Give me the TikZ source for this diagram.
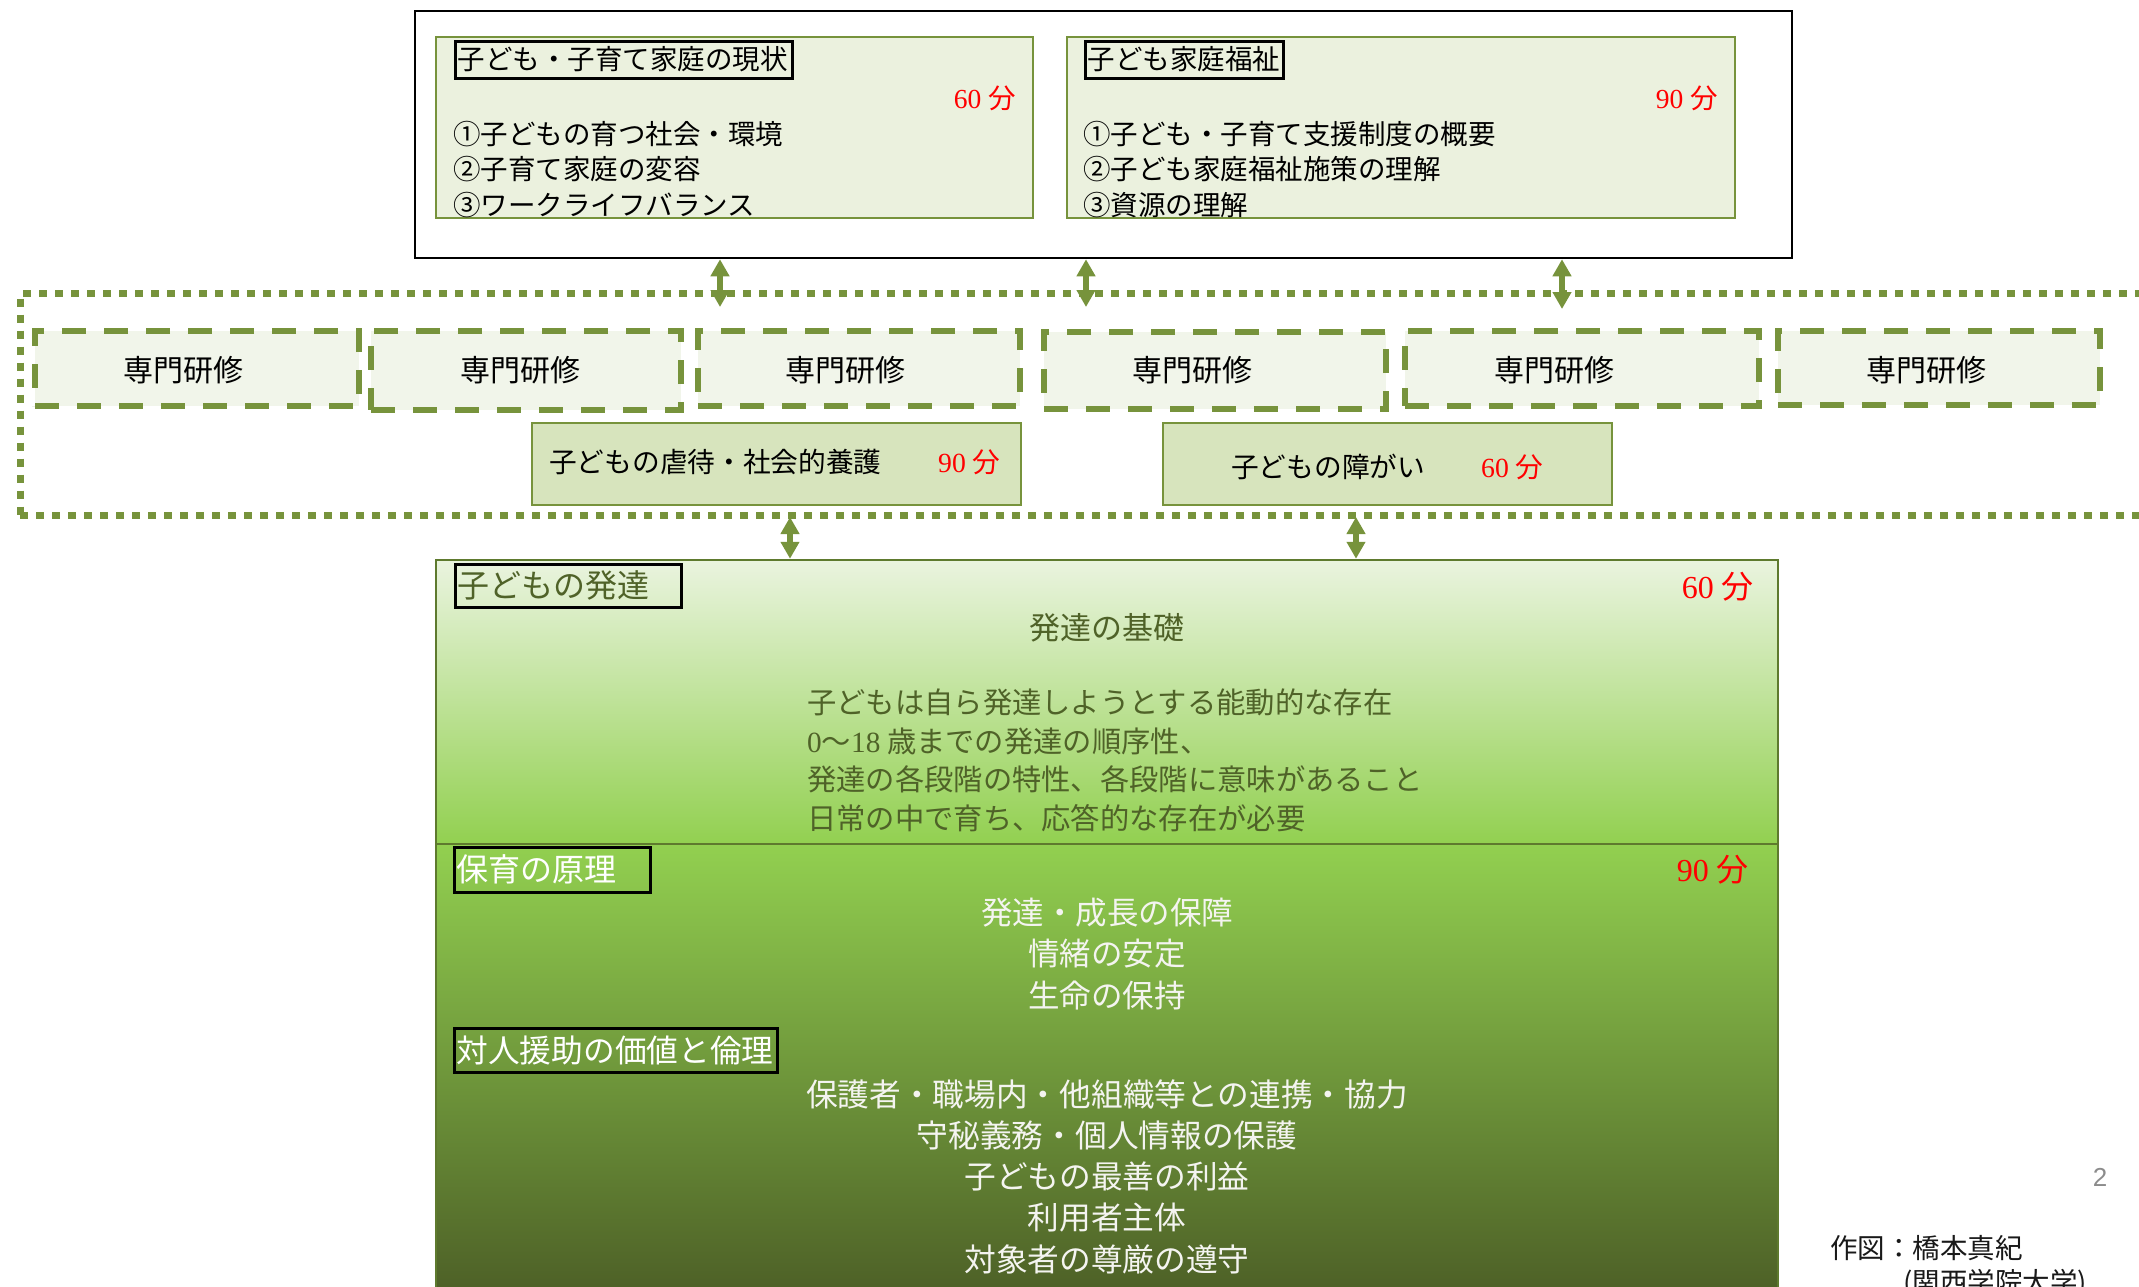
\documentclass[tikz,border=0pt]{standalone}
\usepackage{fontspec}
\setmainfont{Liberation Serif}
\newfontfamily\jp{Noto Sans CJK JP}
\newfontfamily\lsans{Liberation Sans}
\usetikzlibrary{arrows.meta,shadings}
\definecolor{olive}{HTML}{77933C}
\definecolor{boxfill}{HTML}{EBF1DE}
\definecolor{subfill}{HTML}{D7E4BD}
\definecolor{dashfill}{HTML}{F1F5EA}
\definecolor{devtop}{HTML}{EAF4DF}
\definecolor{devbot}{HTML}{92D050}
\definecolor{carebot}{HTML}{4C5E26}
\definecolor{secline}{HTML}{5E7A2E}
\definecolor{dtext}{HTML}{4F6228}
\definecolor{ltext}{HTML}{F4F4F0}
\newcommand\myfs[1]{\fontsize{#1}{#1}\selectfont}
\newcommand\mnt[1]{{\rmfamily #1} {\jp 分}}
\tikzset{
  blkbox/.style={draw=black, line width=2.5pt, fill=white, inner sep=0pt},
  inbox/.style={draw=olive, line width=2.5pt, fill=boxfill, inner sep=0pt},
  ttl/.style={draw=black, line width=3pt, inner xsep=2pt, inner ysep=0pt, align=left, anchor=west},
  frame/.style={draw=olive, line width=7pt, dash pattern=on 8pt off 8pt, inner sep=0pt},
  dbox/.style={draw=olive, line width=6pt, dash pattern=on 24pt off 18pt, fill=dashfill, inner sep=0pt},
  subbox/.style={draw=olive, line width=2.5pt, fill=subfill, inner sep=0pt},
  sec/.style={draw=secline, line width=2.5pt, inner sep=0pt},
  jt/.style={inner sep=0pt, font=\myfs{#1}\jp},
  redt/.style={inner sep=0pt, text=red, font=\myfs{#1}},
  dbl/.style={draw=olive, line width=6.5pt, arrows={Triangle[width=18pt,length=17pt]-Triangle[width=18pt,length=17pt]}}
}
\begin{document}
\begin{tikzpicture}[x=1pt,y=-1pt]
\useasboundingbox (0,0) rectangle (2139,1286);
\clip (0,0) rectangle (2139,1286);

% top block
\node[blkbox, minimum width=1377pt, minimum height=247pt] (top) at (1103.5,134.5) {};
\node[inbox, minimum width=597pt, minimum height=181pt] (ba) at (734.5,127.5) {};
\node[inbox, minimum width=668pt, minimum height=181pt] (bb) at (1401,127.5) {};
\node[ttl, font=\myfs{27.5}\jp, text width=333pt, minimum height=37pt] (ta) at (454,59.5) {子ども・子育て家庭の現状};
\node[ttl, font=\myfs{27.5}\jp, text width=194pt, minimum height=37pt] (tb) at (1084,59.5) {子ども家庭福祉};
\node[redt=27.5, anchor=east] (ma) at (1016,98) {\mnt{60}};
\node[redt=27.5, anchor=east] (mb) at (1718,98) {\mnt{90}};
\node[jt=27.5, anchor=west] (la1) at (453,134) {①子どもの育つ社会・環境};
\node[jt=27.5, anchor=west] (la2) at (453,169.5) {②子育て家庭の変容};
\node[jt=27.5, anchor=west] (la3) at (453,205) {③ワークライフバランス};
\node[jt=27.5, anchor=west] (lb1) at (1083,134) {①子ども・子育て支援制度の概要};
\node[jt=27.5, anchor=west] (lb2) at (1083,169.5) {②子ども家庭福祉施策の理解};
\node[jt=27.5, anchor=west] (lb3) at (1083,205) {③資源の理解};

% dotted frame
\node[frame, minimum width=2150pt, minimum height=222.5pt] (frame) at (1095,404.25) {};

% specialist boxes
\node[dbox, minimum width=324pt, minimum height=75pt] (s1) at (197,368.5) {};
\node[dbox, minimum width=310pt, minimum height=79pt] (s2) at (526,370.5) {};
\node[dbox, minimum width=322pt, minimum height=75pt] (s3) at (859,368.5) {};
\node[dbox, minimum width=342pt, minimum height=77pt] (s4) at (1215,370.5) {};
\node[dbox, minimum width=354pt, minimum height=75pt] (s5) at (1582,368.5) {};
\node[dbox, minimum width=322pt, minimum height=74pt] (s6) at (1939,368) {};
\node[jt=30] (s1t) at (183,370) {専門研修};
\node[jt=30] (s2t) at (520,370) {専門研修};
\node[jt=30] (s3t) at (845,370) {専門研修};
\node[jt=30] (s4t) at (1192,370) {専門研修};
\node[jt=30] (s5t) at (1554,370) {専門研修};
\node[jt=30] (s6t) at (1926,370) {専門研修};

% sub boxes
\node[subbox, minimum width=489pt, minimum height=82pt] (abuse) at (776.5,464) {};
\node[jt=27.7, anchor=west] (abuset) at (549,462) {子どもの虐待・社会的養護};
\node[redt=27.7, anchor=west] (abusem) at (938,462) {\mnt{90}};
\node[subbox, minimum width=449pt, minimum height=82pt] (dis) at (1387.5,464) {};
\node[jt=27.7, anchor=west] (dist) at (1231,467) {子どもの障がい};
\node[redt=27.7, anchor=west] (dism) at (1481,467) {\mnt{60}};

% bottom sections
\node[sec, top color=devtop, bottom color=devbot, minimum width=1342pt, minimum height=284pt] (dev) at (1107,702) {};
\node[sec, top color=devbot, bottom color=carebot, minimum width=1342pt, minimum height=456pt] (care) at (1107,1072) {};

\node[ttl, font=\myfs{32}\jp, text=dtext, text width=222pt, minimum height=43pt] (devt) at (454,585.5) {子どもの発達};
\node[redt=32, anchor=east] (devm) at (1754,587) {\mnt{60}};
\node[jt=31, text=dtext] (devh) at (1107,628) {発達の基礎};
\node[jt=29.3, text=dtext, anchor=west] (d1) at (807,702) {子どもは自ら発達しようとする能動的な存在};
\node[jt=29.3, text=dtext, anchor=west] (d2) at (807,741) {{\rmfamily 0}～{\rmfamily 18} 歳までの発達の順序性、};
\node[jt=29.3, text=dtext, anchor=west] (d3) at (807,779) {発達の各段階の特性、各段階に意味があること};
\node[jt=29.3, text=dtext, anchor=west] (d4) at (807,818) {日常の中で育ち、応答的な存在が必要};

\node[ttl, font=\myfs{32}\jp, text=white, text width=192pt, minimum height=45pt] (caret) at (453,869.5) {保育の原理};
\node[redt=32, anchor=east] (carem) at (1749,870) {\mnt{90}};
\node[jt=31.5, text=ltext] (c1) at (1107,913) {発達・成長の保障};
\node[jt=31.5, text=ltext] (c2) at (1107,954) {情緒の安定};
\node[jt=31.5, text=ltext] (c3) at (1107,996) {生命の保持};

\node[ttl, font=\myfs{31.7}\jp, text=white, text width=319pt, minimum height=44pt] (etht) at (453,1050) {対人援助の価値と倫理};
\node[jt=31.7, text=ltext] (e1) at (1107,1094) {保護者・職場内・他組織等との連携・協力};
\node[jt=31.7, text=ltext] (e2) at (1107,1135) {守秘義務・個人情報の保護};
\node[jt=31.7, text=ltext] (e3) at (1107,1176) {子どもの最善の利益};
\node[jt=31.7, text=ltext] (e4) at (1107,1218) {利用者主体};
\node[jt=31.7, text=ltext] (e5) at (1107,1259) {対象者の尊厳の遵守};

% arrows
\coordinate (t1) at (720,307);
\coordinate (t2) at (1086,307);
\coordinate (t3) at (1562,309);
\coordinate (u1) at (790,517);
\coordinate (u2) at (1356,517);
\draw[dbl] (t1) -- (t1 |- top.south);
\draw[dbl] (t2) -- (t2 |- top.south);
\draw[dbl] (t3) -- (t3 |- top.south);
\draw[dbl] (u1) -- (u1 |- dev.north);
\draw[dbl] (u2) -- (u2 |- dev.north);

% footer
\node[inner sep=0pt, text=black!45, font=\myfs{26}\lsans] (pg) at (2100,1177) {2};
\node[jt=27.5, anchor=west, text=black!90] (auth) at (1830,1248) {作図：橋本真紀};
\node[jt=27.5, anchor=west, text=black!90] (univ) at (1903,1284) {(関西学院大学)};
\end{tikzpicture}
\end{document}
